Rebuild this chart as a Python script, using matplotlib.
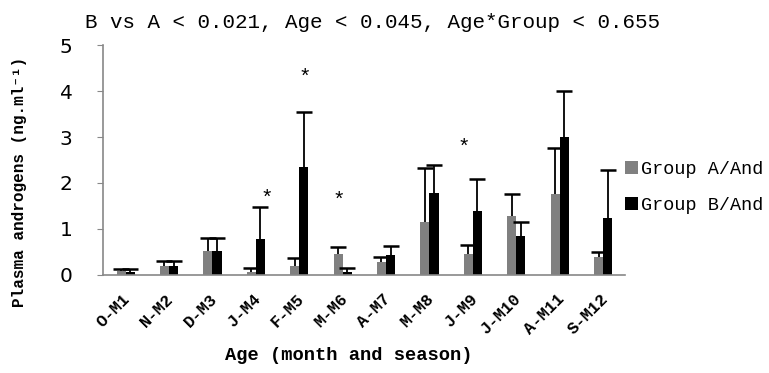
import matplotlib
matplotlib.use("Agg")
import matplotlib.pyplot as plt
import matplotlib.transforms as mtransforms
import numpy as np

# data
ages = ["O-M1", "N-M2", "D-M3", "J-M4", "F-M5", "M-M6",
        "A-M7", "M-M8", "J-M9", "J-M10", "A-M11", "S-M12"]
group_a = [0.09, 0.20, 0.52, 0.07, 0.20, 0.46, 0.28, 1.15, 0.46, 1.28, 1.76, 0.39]
group_a_err = [0.03, 0.10, 0.28, 0.08, 0.17, 0.15, 0.12, 1.17, 0.20, 0.47, 1.01, 0.10]
group_b = [0.06, 0.20, 0.52, 0.78, 2.34, 0.07, 0.44, 1.78, 1.39, 0.84, 2.99, 1.23]
group_b_err = [0.06, 0.10, 0.28, 0.70, 1.20, 0.09, 0.19, 0.62, 0.69, 0.31, 1.02, 1.05]

# significance stars: category index, offset within the group, height
star_idx = [3, 4, 5, 8]
star_off = [0.25, 0.13, -0.10, -0.22]
star_y = [1.67, 4.30, 1.63, 2.78]

title = "B vs A < 0.021, Age < 0.045, Age*Group < 0.655"
mono = ["Liberation Mono", "DejaVu Sans Mono"]

fig = plt.figure(figsize=(7.69, 3.73), dpi=100)
ax = fig.add_axes([0.134, 0.263, 0.679, 0.616])

x = np.arange(len(ages))
w = 0.21
ax.bar(x - w / 2, group_a, w, color="#808080", label="Group A/And")
ax.bar(x + w / 2, group_b, w, color="#000000", label="Group B/And")
for xs, ys, es in [(x - w / 2, group_a, group_a_err), (x + w / 2, group_b, group_b_err)]:
    eb = ax.errorbar(xs, ys, yerr=[np.zeros(len(x)), es], fmt="none",
                     ecolor="black", elinewidth=1.3, capsize=6, capthick=1.8)
    eb[1][0].set_visible(False)  # no cap at the bar top

for i, o, y in zip(star_idx, star_off, star_y):
    ax.text(i + o, y, "*", ha="center", va="center", fontsize=15, family=mono)

ax.set_xlim(-0.52, 11.51)
ax.set_ylim(0, 5)
ax.set_yticks(range(6))
ax.tick_params(axis="y", labelsize=14.5, length=4, color="#888888", pad=18)
for t in ax.get_yticklabels():
    t.set_family("DejaVu Sans")

ax.set_xticks(x)
ax.set_xticklabels(ages, rotation=45, ha="right", rotation_mode="anchor",
                   fontsize=12, family=mono, fontweight="bold")
ax.tick_params(axis="x", length=0, pad=12)
shift = mtransforms.ScaledTranslation(-3 / 100, 0, fig.dpi_scale_trans)
for t in ax.get_xticklabels():
    t.set_transform(t.get_transform() + shift)

for s in ["top", "right"]:
    ax.spines[s].set_visible(False)
for s in ["left", "bottom"]:
    ax.spines[s].set_color("#888888")
    ax.spines[s].set_linewidth(1.2)

fig.text(0.026, 0.512, "Plasma androgens (ng.ml\u207b\u00b9)", rotation=90,
         ha="center", va="center", family=mono, fontweight="bold", fontsize=11.5)
fig.text(0.453, 0.048, "Age (month and season)", ha="center", va="center",
         family=mono, fontweight="bold", fontsize=13.5)
fig.text(0.484, 0.941, title, ha="center", va="center", family=mono, fontsize=15)

ax.legend(loc="center left", bbox_to_anchor=(1.0, 0.38), frameon=False,
          prop={"family": mono, "size": 13.3}, handlelength=0.7,
          handleheight=0.7, handletextpad=0.15, labelspacing=1.0,
          borderaxespad=0, borderpad=0)

fig.savefig("out.png", dpi=100)
